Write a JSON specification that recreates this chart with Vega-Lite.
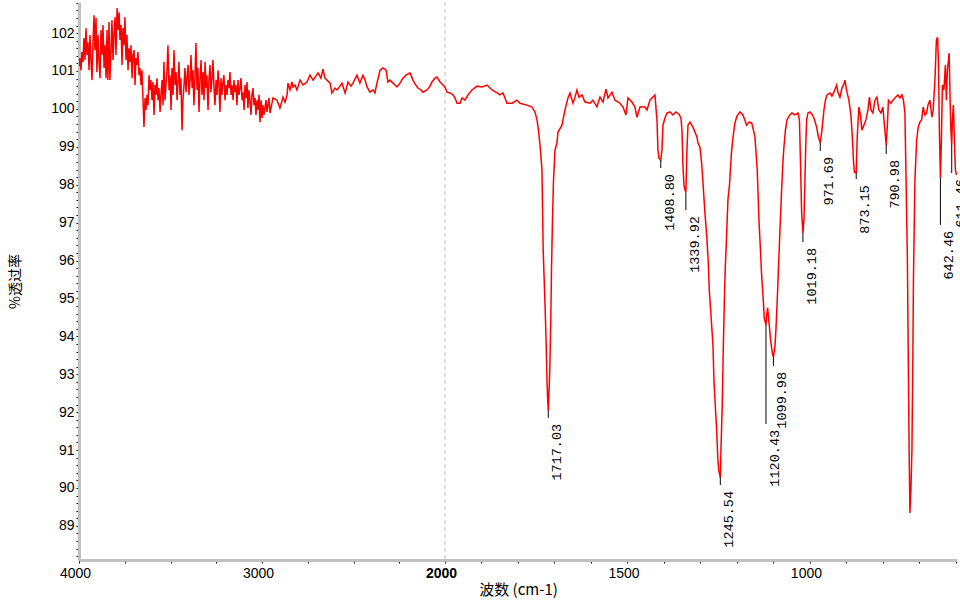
{
  "$schema": "https://vega.github.io/schema/vega-lite/v6.json",
  "width": 878,
  "height": 558,
  "autosize": "none",
  "padding": {"left": 79, "top": 2, "right": 3, "bottom": 40},
  "background": "white",
  "config": {"view": {"stroke": null}, "axis": {"labelOverlap": false}},
  "datasets": {
    "spectrum": [
      {"w":4000,"t":101.13},{"w":3995,"t":101.34},{"w":3989,"t":101.02},{"w":3984,"t":101.50},{"w":3978,"t":101.24},{"w":3973,"t":101.87},{"w":3967,"t":101.29},{"w":3962,"t":102.13},{"w":3956,"t":101.42},{"w":3951,"t":101.76},
      {"w":3945,"t":101.02},{"w":3940,"t":101.95},{"w":3934,"t":101.24},{"w":3929,"t":100.76},{"w":3923,"t":101.82},{"w":3918,"t":102.47},{"w":3913,"t":101.55},{"w":3907,"t":102.40},{"w":3902,"t":100.97},{"w":3896,"t":101.95},
      {"w":3891,"t":101.29},{"w":3885,"t":100.81},{"w":3880,"t":102.08},{"w":3874,"t":101.42},{"w":3869,"t":102.21},{"w":3863,"t":101.08},{"w":3858,"t":101.68},{"w":3852,"t":100.81},{"w":3847,"t":102.08},{"w":3842,"t":100.76},
      {"w":3836,"t":102.29},{"w":3831,"t":100.76},{"w":3825,"t":101.55},{"w":3820,"t":102.34},{"w":3814,"t":101.29},{"w":3809,"t":101.95},{"w":3803,"t":102.42},{"w":3798,"t":101.42},{"w":3792,"t":102.66},{"w":3787,"t":102.08},
      {"w":3781,"t":102.55},{"w":3776,"t":101.82},{"w":3770,"t":102.21},{"w":3765,"t":101.16},{"w":3760,"t":102.13},{"w":3754,"t":101.68},{"w":3749,"t":102.42},{"w":3743,"t":101.29},{"w":3738,"t":101.95},{"w":3732,"t":101.02},
      {"w":3727,"t":101.60},{"w":3721,"t":101.24},{"w":3716,"t":101.68},{"w":3710,"t":100.81},{"w":3705,"t":101.42},{"w":3699,"t":101.55},{"w":3694,"t":100.63},{"w":3689,"t":101.34},{"w":3683,"t":101.16},{"w":3678,"t":101.50},
      {"w":3672,"t":100.89},{"w":3667,"t":101.08},{"w":3661,"t":100.63},{"w":3656,"t":101.02},{"w":3650,"t":100.23},{"w":3645,"t":99.52},{"w":3639,"t":100.29},{"w":3634,"t":99.97},{"w":3628,"t":100.37},{"w":3623,"t":100.10},
      {"w":3617,"t":100.89},{"w":3612,"t":100.50},{"w":3607,"t":100.76},{"w":3601,"t":100.23},{"w":3596,"t":100.71},{"w":3590,"t":99.84},{"w":3585,"t":100.63},{"w":3579,"t":100.37},{"w":3574,"t":100.81},{"w":3568,"t":100.23},
      {"w":3563,"t":100.55},{"w":3557,"t":99.92},{"w":3552,"t":100.37},{"w":3546,"t":100.76},{"w":3541,"t":100.10},{"w":3536,"t":101.24},{"w":3530,"t":100.23},{"w":3525,"t":100.63},{"w":3519,"t":101.02},{"w":3514,"t":101.68},
      {"w":3508,"t":100.50},{"w":3503,"t":100.89},{"w":3497,"t":99.97},{"w":3492,"t":101.08},{"w":3486,"t":100.37},{"w":3481,"t":101.55},{"w":3475,"t":100.63},{"w":3470,"t":100.97},{"w":3464,"t":100.23},{"w":3459,"t":100.71},
      {"w":3454,"t":101.24},{"w":3448,"t":100.37},{"w":3443,"t":100.81},{"w":3437,"t":99.44},{"w":3432,"t":100.23},{"w":3426,"t":100.63},{"w":3421,"t":101.08},{"w":3415,"t":100.44},{"w":3410,"t":100.81},{"w":3404,"t":101.16},
      {"w":3399,"t":100.37},{"w":3393,"t":100.76},{"w":3388,"t":101.42},{"w":3382,"t":100.55},{"w":3377,"t":101.02},{"w":3372,"t":100.10},{"w":3366,"t":100.89},{"w":3361,"t":101.74},{"w":3355,"t":100.50},{"w":3350,"t":101.08},
      {"w":3344,"t":99.92},{"w":3339,"t":100.76},{"w":3333,"t":101.29},{"w":3328,"t":100.37},{"w":3322,"t":100.97},{"w":3317,"t":100.23},{"w":3311,"t":101.24},{"w":3306,"t":100.55},{"w":3301,"t":100.89},{"w":3295,"t":99.97},
      {"w":3290,"t":100.76},{"w":3284,"t":101.16},{"w":3279,"t":100.44},{"w":3273,"t":100.81},{"w":3268,"t":101.29},{"w":3262,"t":100.55},{"w":3257,"t":100.10},{"w":3251,"t":100.76},{"w":3246,"t":100.37},{"w":3240,"t":101.02},
      {"w":3235,"t":100.63},{"w":3230,"t":99.92},{"w":3224,"t":100.81},{"w":3219,"t":100.37},{"w":3213,"t":100.71},{"w":3208,"t":100.89},{"w":3202,"t":100.23},{"w":3197,"t":100.63},{"w":3191,"t":100.37},{"w":3186,"t":100.76},
      {"w":3180,"t":100.55},{"w":3175,"t":100.97},{"w":3169,"t":100.37},{"w":3164,"t":100.63},{"w":3158,"t":100.23},{"w":3153,"t":100.76},{"w":3148,"t":100.44},{"w":3142,"t":100.63},{"w":3137,"t":100.10},{"w":3131,"t":100.76},
      {"w":3126,"t":100.37},{"w":3120,"t":100.55},{"w":3115,"t":100.81},{"w":3109,"t":100.23},{"w":3104,"t":100.44},{"w":3098,"t":99.97},{"w":3093,"t":100.63},{"w":3087,"t":100.29},{"w":3082,"t":100.71},{"w":3077,"t":100.02},
      {"w":3071,"t":100.50},{"w":3066,"t":100.23},{"w":3060,"t":99.84},{"w":3055,"t":100.37},{"w":3049,"t":100.55},{"w":3044,"t":100.10},{"w":3038,"t":100.29},{"w":3033,"t":99.84},{"w":3027,"t":100.23},{"w":3022,"t":99.97},
      {"w":3016,"t":100.37},{"w":3011,"t":99.65},{"w":3005,"t":100.23},{"w":3000,"t":99.76},{"w":2995,"t":100.10},{"w":2989,"t":99.84},{"w":2984,"t":100.02},{"w":2978,"t":100.23},{"w":2973,"t":99.92},{"w":2967,"t":100.10},
      {"w":2962,"t":100.29},{"w":2956,"t":99.89},
      {"w":2940,"t":100.29},{"w":2918,"t":100.23},{"w":2902,"t":100.02},{"w":2885,"t":100.31},{"w":2874,"t":100.18},{"w":2863,"t":100.37},{"w":2858,"t":100.68},{"w":2847,"t":100.50},{"w":2836,"t":100.71},{"w":2831,"t":100.58},
      {"w":2820,"t":100.63},{"w":2809,"t":100.50},{"w":2792,"t":100.76},{"w":2776,"t":100.63},{"w":2754,"t":100.71},{"w":2738,"t":100.89},{"w":2721,"t":100.76},{"w":2705,"t":100.87},{"w":2694,"t":100.95},{"w":2678,"t":100.81},
      {"w":2667,"t":101.05},{"w":2656,"t":100.81},{"w":2645,"t":100.76},{"w":2628,"t":100.68},{"w":2618,"t":100.42},{"w":2601,"t":100.55},{"w":2590,"t":100.50},{"w":2574,"t":100.60},{"w":2563,"t":100.68},{"w":2546,"t":100.42},
      {"w":2530,"t":100.71},{"w":2514,"t":100.60},{"w":2503,"t":100.68},{"w":2481,"t":100.89},{"w":2465,"t":100.68},{"w":2448,"t":100.89},{"w":2437,"t":100.76},{"w":2426,"t":100.58},{"w":2410,"t":100.44},{"w":2393,"t":100.50},
      {"w":2383,"t":100.42},{"w":2372,"t":100.68},{"w":2355,"t":101.02},{"w":2339,"t":101.08},{"w":2322,"t":101.02},{"w":2312,"t":100.71},{"w":2301,"t":100.76},{"w":2284,"t":100.68},{"w":2273,"t":100.63},{"w":2262,"t":100.58},
      {"w":2246,"t":100.68},{"w":2230,"t":100.81},{"w":2213,"t":100.89},{"w":2191,"t":100.95},{"w":2175,"t":100.76},{"w":2164,"t":100.66},{"w":2148,"t":100.55},{"w":2131,"t":100.50},{"w":2120,"t":100.44},{"w":2098,"t":100.50},
      {"w":2082,"t":100.60},{"w":2071,"t":100.71},{"w":2055,"t":100.81},{"w":2044,"t":100.84},{"w":2027,"t":100.71},{"w":2011,"t":100.63},{"w":2000,"t":100.58},
      {"w":1994.5,"t":100.44},{"w":1986.3,"t":100.42},{"w":1978.1,"t":100.37},{"w":1972.6,"t":100.29},{"w":1967.1,"t":100.15},{"w":1958.9,"t":100.15},{"w":1953.4,"t":100.29},{"w":1945.2,"t":100.23},{"w":1937.0,"t":100.37},{"w":1926.0,"t":100.50},
      {"w":1912.3,"t":100.60},{"w":1898.6,"t":100.58},{"w":1884.9,"t":100.63},{"w":1871.2,"t":100.50},{"w":1857.5,"t":100.42},{"w":1849.3,"t":100.37},{"w":1841.1,"t":100.42},{"w":1830.1,"t":100.15},{"w":1816.4,"t":100.15},{"w":1802.7,"t":100.23},
      {"w":1794.5,"t":100.15},{"w":1775.3,"t":100.10},{"w":1761.7,"t":100.05},{"w":1753.4,"t":99.92},{"w":1747.9,"t":99.71},{"w":1743.8,"t":99.44},{"w":1738.4,"t":98.91},{"w":1734.3,"t":98.39},{"w":1731.0,"t":96.28},{"w":1728.2,"t":95.49},
      {"w":1725.5,"t":94.70},{"w":1722.7,"t":93.77},{"w":1720.6,"t":92.85},{"w":1718.6,"t":92.32},{"w":1717.03,"t":92.03},{"w":1715.6,"t":92.37},{"w":1712.9,"t":93.11},{"w":1710.1,"t":94.43},{"w":1708.2,"t":95.75},{"w":1705.5,"t":97.07},
      {"w":1702.7,"t":98.12},{"w":1698.6,"t":98.91},{"w":1693.2,"t":99.10},{"w":1690.4,"t":99.39},{"w":1679.5,"t":99.57},{"w":1671.2,"t":99.97},{"w":1663.0,"t":100.29},{"w":1657.5,"t":100.42},{"w":1649.3,"t":100.15},{"w":1643.8,"t":100.31},
      {"w":1638.4,"t":100.50},{"w":1632.9,"t":100.31},{"w":1624.7,"t":100.37},{"w":1616.4,"t":100.18},{"w":1602.7,"t":100.15},{"w":1594.5,"t":100.23},{"w":1583.6,"t":100.05},{"w":1575.3,"t":100.31},{"w":1567.1,"t":100.18},{"w":1558.9,"t":100.52},
      {"w":1553.4,"t":100.29},{"w":1542.5,"t":100.44},{"w":1534.2,"t":100.23},{"w":1520.5,"t":100.15},{"w":1512.3,"t":100.05},{"w":1504.1,"t":99.84},{"w":1498.6,"t":100.29},{"w":1487.7,"t":100.18},{"w":1479.5,"t":100.05},{"w":1474.0,"t":99.78},
      {"w":1465.8,"t":100.05},{"w":1452.1,"t":100.05},{"w":1446.6,"t":99.97},{"w":1438.4,"t":100.23},{"w":1424.7,"t":100.37},{"w":1419.2,"t":99.71},{"w":1416.4,"t":98.91},{"w":1413.7,"t":98.70},{"w":1408.8,"t":98.65},{"w":1405.5,"t":98.91},
      {"w":1402.7,"t":99.57},{"w":1397.3,"t":99.76},{"w":1391.8,"t":99.89},{"w":1383.6,"t":99.92},{"w":1375.3,"t":99.84},{"w":1367.1,"t":99.92},{"w":1358.9,"t":99.86},{"w":1353.4,"t":99.76},{"w":1350.7,"t":99.44},{"w":1348.0,"t":98.52},
      {"w":1345.2,"t":97.99},{"w":1342.5,"t":97.86},{"w":1339.92,"t":97.81},{"w":1337.0,"t":98.91},{"w":1334.2,"t":99.57},{"w":1328.8,"t":99.65},{"w":1320.5,"t":99.52},{"w":1309.6,"t":99.26},{"w":1306.8,"t":99.10},{"w":1301.4,"t":98.99},
      {"w":1296.7,"t":98.57},{"w":1292.3,"t":97.94},{"w":1287.7,"t":97.25},{"w":1283.0,"t":96.67},{"w":1278.6,"t":95.96},{"w":1275.9,"t":95.22},{"w":1272.1,"t":94.70},{"w":1268.5,"t":94.17},{"w":1265.8,"t":93.77},{"w":1263.0,"t":92.85},
      {"w":1259.5,"t":92.19},{"w":1255.6,"t":91.53},{"w":1252.9,"t":90.87},{"w":1250.1,"t":90.48},{"w":1245.54,"t":90.27},{"w":1243.8,"t":91.00},{"w":1240.3,"t":92.19},{"w":1237.5,"t":93.64},{"w":1234.8,"t":94.83},{"w":1232.1,"t":95.80},
      {"w":1228.8,"t":96.54},{"w":1224.7,"t":97.60},{"w":1220.5,"t":97.99},{"w":1215.1,"t":98.84},{"w":1211.0,"t":99.23},{"w":1205.5,"t":99.63},{"w":1200.0,"t":99.81},{"w":1191.8,"t":99.92},{"w":1183.6,"t":99.84},{"w":1173.4,"t":99.57},
      {"w":1167.1,"t":99.65},{"w":1159.7,"t":99.63},{"w":1156.2,"t":99.50},{"w":1150.7,"t":99.26},{"w":1144.4,"t":98.39},{"w":1139.7,"t":97.07},{"w":1135.6,"t":96.28},{"w":1132.4,"t":95.62},{"w":1127.9,"t":94.96},{"w":1125.1,"t":94.48},
      {"w":1120.43,"t":94.30},{"w":1118.6,"t":94.56},{"w":1115.9,"t":94.75},{"w":1111.5,"t":94.30},{"w":1107.7,"t":93.90},{"w":1104.9,"t":93.69},{"w":1102.2,"t":93.51},{"w":1099.98,"t":93.46},{"w":1095.9,"t":93.72},{"w":1093.2,"t":94.17},
      {"w":1089.6,"t":94.96},{"w":1086.9,"t":95.62},{"w":1082.2,"t":96.80},{"w":1077.6,"t":97.86},{"w":1074.0,"t":98.60},{"w":1071.3,"t":98.99},{"w":1067.1,"t":99.44},{"w":1063.0,"t":99.71},{"w":1054.8,"t":99.84},{"w":1049.3,"t":99.89},
      {"w":1041.1,"t":99.84},{"w":1032.9,"t":99.89},{"w":1028.8,"t":99.71},{"w":1026.0,"t":98.65},{"w":1022.7,"t":97.25},{"w":1020.5,"t":96.94},{"w":1019.18,"t":96.73},{"w":1016.4,"t":97.07},{"w":1013.7,"t":98.12},{"w":1011.0,"t":99.18},
      {"w":1009.0,"t":99.71},{"w":1005.5,"t":99.89},{"w":1000.0,"t":99.92},{"w":994.5,"t":99.86},{"w":989.1,"t":99.76},{"w":981.7,"t":99.52},{"w":976.7,"t":99.26},{"w":971.69,"t":99.10},{"w":967.1,"t":99.44},{"w":961.6,"t":99.97},
      {"w":957.5,"t":100.23},{"w":953.4,"t":100.37},{"w":945.2,"t":100.42},{"w":939.7,"t":100.34},{"w":934.2,"t":100.44},{"w":926.9,"t":100.63},{"w":923.3,"t":100.44},{"w":917.8,"t":100.31},{"w":912.3,"t":100.55},{"w":906.8,"t":100.66},
      {"w":904.1,"t":100.76},{"w":898.6,"t":100.44},{"w":893.2,"t":100.23},{"w":887.7,"t":99.84},{"w":883.6,"t":99.23},{"w":880.8,"t":98.65},{"w":878.1,"t":98.33},{"w":873.15,"t":98.31},{"w":870.4,"t":99.26},{"w":865.8,"t":100.05},
      {"w":861.7,"t":99.84},{"w":857.5,"t":99.44},{"w":852.1,"t":99.57},{"w":846.6,"t":99.71},{"w":841.1,"t":99.97},{"w":837.0,"t":100.31},{"w":832.9,"t":99.97},{"w":827.4,"t":99.89},{"w":821.9,"t":100.23},{"w":816.4,"t":100.31},
      {"w":811.0,"t":99.97},{"w":805.5,"t":99.89},{"w":800.0,"t":100.05},{"w":795.9,"t":99.57},{"w":790.98,"t":99.05},{"w":787.7,"t":99.57},{"w":784.9,"t":100.23},{"w":778.1,"t":100.15},{"w":772.6,"t":100.23},{"w":767.1,"t":100.29},
      {"w":758.9,"t":100.37},{"w":753.4,"t":100.29},{"w":747.9,"t":100.37},{"w":743.8,"t":100.23},{"w":739.7,"t":99.89},{"w":735.6,"t":97.60},{"w":732.9,"t":96.01},{"w":730.7,"t":93.64},{"w":728.2,"t":91.00},{"w":726.0,"t":89.34},
      {"w":723.3,"t":89.95},{"w":720.5,"t":91.00},{"w":717.8,"t":93.64},{"w":716.4,"t":95.49},{"w":712.3,"t":98.12},{"w":707.6,"t":99.18},{"w":703.3,"t":99.52},{"w":698.6,"t":99.65},{"w":694.0,"t":99.71},{"w":689.6,"t":100.05},
      {"w":684.9,"t":99.84},{"w":680.3,"t":99.89},{"w":676.7,"t":100.10},{"w":671.2,"t":100.23},{"w":665.8,"t":99.78},{"w":662.2,"t":99.97},{"w":657.5,"t":100.76},{"w":653.4,"t":101.82},{"w":650.2,"t":101.89},{"w":648.0,"t":101.29},
      {"w":645.3,"t":99.44},{"w":642.46,"t":98.18},{"w":639.8,"t":99.18},{"w":637.0,"t":100.63},{"w":632.9,"t":100.50},{"w":628.9,"t":101.16},{"w":626.1,"t":100.23},{"w":623.3,"t":101.02},{"w":618.4,"t":101.47},{"w":615.9,"t":100.23},
      {"w":613.7,"t":99.44},{"w":611.46,"t":99.05},{"w":609.6,"t":99.71},{"w":606.9,"t":100.10},{"w":604.2,"t":99.18},{"w":601.4,"t":98.39},{"w":598.6,"t":98.26}
    ],
    "peaks": [
      {"w":1717.03,"t":92.03,"end":91.85,"label":"1717.03"},
      {"w":1408.80,"t":98.65,"end":98.44,"label":"1408.80"},
      {"w":1339.92,"t":97.81,"end":97.33,"label":"1339.92"},
      {"w":1245.54,"t":90.27,"end":90.08,"label":"1245.54"},
      {"w":1120.43,"t":94.30,"end":91.69,"label":"1120.43"},
      {"w":1099.98,"t":93.46,"end":93.22,"label":"1099.98"},
      {"w":1019.18,"t":96.73,"end":96.49,"label":"1019.18"},
      {"w":971.69,"t":99.10,"end":98.89,"label":"971.69"},
      {"w":873.15,"t":98.31,"end":98.15,"label":"873.15"},
      {"w":790.98,"t":99.05,"end":98.81,"label":"790.98"},
      {"w":642.46,"t":98.18,"end":96.94,"label":"642.46"},
      {"w":611.46,"t":99.05,"end":98.31,"label":"611.46"}
    ]
  },
  "encoding": {
    "x": {
      "field": "w", "type": "quantitative",
      "scale": {"domain": [4000, 2000, 597], "range": [0, 366, 878], "nice": false, "zero": false},
      "axis": {
        "title": "波数 (cm-1)",
        "titleFont": "Noto Sans CJK SC", "titleFontSize": 15, "titleFontWeight": "normal", "titleColor": "#000000",
        "titleY": 29, "titleBaseline": "middle",
        "values": [4000,3750,3500,3250,3000,2750,2500,2250,2000,1900,1800,1700,1600,1500,1400,1300,1200,1100,1000,900,800,700,600],
        "format": "d",
        "labelExpr": "indexof([4000,3000,2000,1500,1000], datum.value) >= 0 ? datum.label : ''",
        "labelFont": "Liberation Sans", "labelFontSize": 14, "labelColor": "#000000",
        "labelFontWeight": {"condition": {"test": "datum.value == 2000", "value": "bold"}, "value": "normal"},
        "labelOffset": -4, "labelPadding": 3, "labelFlush": false, "labelOverlap": false,
        "domainColor": "#c0c0c0", "domainWidth": 3,
        "tickColor": "#000000", "tickSize": 3, "tickWidth": 1,
        "grid": false
      }
    }
  },
  "layer": [
    {
      "data": {"values": [{"w": 2000}]},
      "mark": {"type": "rule", "color": "#c0c0c0", "strokeDash": [4, 3], "strokeWidth": 1},
      "encoding": {}
    },
    {
      "data": {"name": "spectrum"},
      "mark": {"type": "line", "color": "#ff0000", "strokeWidth": 1.5, "clip": true},
      "encoding": {
        "y": {
          "field": "t", "type": "quantitative",
          "scale": {"domain": [88.10, 102.82], "nice": false, "zero": false},
          "axis": {
            "title": "%透过率",
            "titleFont": "Noto Sans CJK SC", "titleFontSize": 14, "titleFontWeight": "normal", "titleColor": "#000000",
            "titleX": -64, "titleY": 279, "titleAngle": 270, "titleBaseline": "middle", "titleAlign": "center",
            "values": [88.2,88.4,88.6,88.8,89,89.2,89.4,89.6,89.8,90,90.2,90.4,90.6,90.8,91,91.2,91.4,91.6,91.8,92,92.2,92.4,92.6,92.8,93,93.2,93.4,93.6,93.8,94,94.2,94.4,94.6,94.8,95,95.2,95.4,95.6,95.8,96,96.2,96.4,96.6,96.8,97,97.2,97.4,97.6,97.8,98,98.2,98.4,98.6,98.8,99,99.2,99.4,99.6,99.8,100,100.2,100.4,100.6,100.8,101,101.2,101.4,101.6,101.8,102,102.2,102.4,102.6,102.8],
            "labelExpr": "floor(datum.value) == datum.value ? format(datum.value, 'd') : ''",
            "labelFont": "Liberation Sans", "labelFontSize": 14, "labelColor": "#000000",
            "labelPadding": 2, "labelOverlap": false, "labelFlush": false,
            "domainColor": "#c0c0c0", "domainWidth": 3,
            "tickColor": "#000000", "tickSize": 3, "tickWidth": 1,
            "grid": false
          }
        }
      }
    },
    {
      "data": {"name": "peaks"},
      "mark": {"type": "rule", "color": "#000000", "strokeWidth": 1},
      "encoding": {
        "y": {
          "field": "t", "type": "quantitative",
          "scale": {"domain": [88.10, 102.82], "nice": false, "zero": false},
          "axis": {
            "title": "%透过率",
            "titleFont": "Noto Sans CJK SC", "titleFontSize": 14, "titleFontWeight": "normal", "titleColor": "#000000",
            "titleX": -64, "titleY": 279, "titleAngle": 270, "titleBaseline": "middle", "titleAlign": "center",
            "values": [88.2,88.4,88.6,88.8,89,89.2,89.4,89.6,89.8,90,90.2,90.4,90.6,90.8,91,91.2,91.4,91.6,91.8,92,92.2,92.4,92.6,92.8,93,93.2,93.4,93.6,93.8,94,94.2,94.4,94.6,94.8,95,95.2,95.4,95.6,95.8,96,96.2,96.4,96.6,96.8,97,97.2,97.4,97.6,97.8,98,98.2,98.4,98.6,98.8,99,99.2,99.4,99.6,99.8,100,100.2,100.4,100.6,100.8,101,101.2,101.4,101.6,101.8,102,102.2,102.4,102.6,102.8],
            "labelExpr": "floor(datum.value) == datum.value ? format(datum.value, 'd') : ''",
            "labelFont": "Liberation Sans", "labelFontSize": 14, "labelColor": "#000000",
            "labelPadding": 2, "labelOverlap": false, "labelFlush": false,
            "domainColor": "#c0c0c0", "domainWidth": 3,
            "tickColor": "#000000", "tickSize": 3, "tickWidth": 1,
            "grid": false
          }
        },
        "y2": {"field": "end"}
      }
    },
    {
      "data": {"name": "peaks"},
      "mark": {"type": "text", "angle": 270, "align": "right", "baseline": "middle", "dx": -6, "dy": 9, "font": "Liberation Mono", "fontSize": 13.5, "color": "#000000"},
      "encoding": {
        "y": {
          "field": "end", "type": "quantitative",
          "scale": {"domain": [88.10, 102.82], "nice": false, "zero": false},
          "axis": {
            "title": "%透过率",
            "titleFont": "Noto Sans CJK SC", "titleFontSize": 14, "titleFontWeight": "normal", "titleColor": "#000000",
            "titleX": -64, "titleY": 279, "titleAngle": 270, "titleBaseline": "middle", "titleAlign": "center",
            "values": [88.2,88.4,88.6,88.8,89,89.2,89.4,89.6,89.8,90,90.2,90.4,90.6,90.8,91,91.2,91.4,91.6,91.8,92,92.2,92.4,92.6,92.8,93,93.2,93.4,93.6,93.8,94,94.2,94.4,94.6,94.8,95,95.2,95.4,95.6,95.8,96,96.2,96.4,96.6,96.8,97,97.2,97.4,97.6,97.8,98,98.2,98.4,98.6,98.8,99,99.2,99.4,99.6,99.8,100,100.2,100.4,100.6,100.8,101,101.2,101.4,101.6,101.8,102,102.2,102.4,102.6,102.8],
            "labelExpr": "floor(datum.value) == datum.value ? format(datum.value, 'd') : ''",
            "labelFont": "Liberation Sans", "labelFontSize": 14, "labelColor": "#000000",
            "labelPadding": 2, "labelOverlap": false, "labelFlush": false,
            "domainColor": "#c0c0c0", "domainWidth": 3,
            "tickColor": "#000000", "tickSize": 3, "tickWidth": 1,
            "grid": false
          }
        },
        "text": {"field": "label"}
      }
    }
  ]
}
